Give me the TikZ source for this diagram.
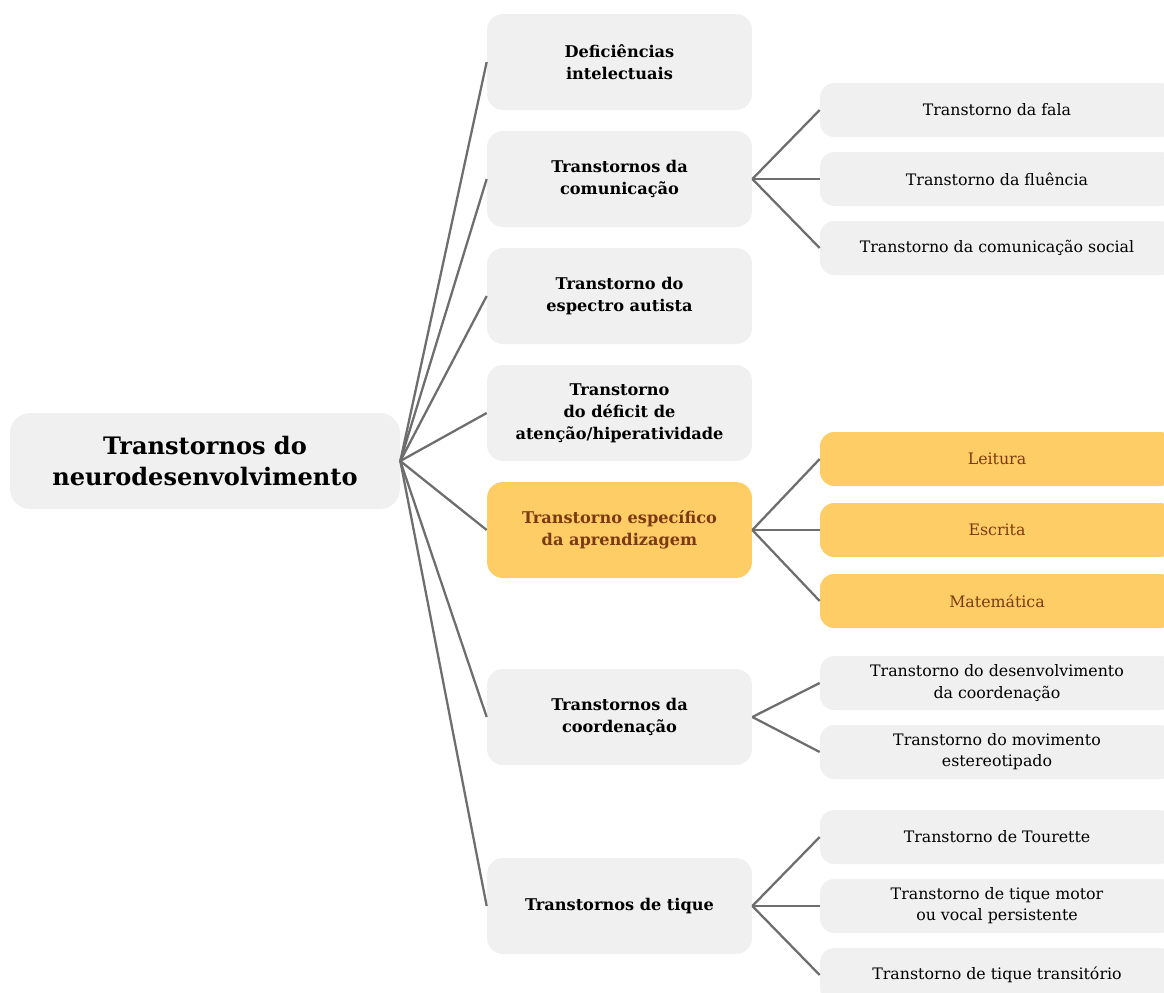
\documentclass[tikz,border=0pt]{standalone}
\usepackage{fontspec}
\setmainfont{DejaVu Serif}
\usetikzlibrary{positioning}
\definecolor{boxgray}{HTML}{F0F0F0}
\definecolor{boxyellow}{HTML}{FFCD66}
\definecolor{textbrown}{HTML}{7B3A12}
\definecolor{linegray}{HTML}{6E6E6E}

\begin{document}
\begin{tikzpicture}[x=0.02cm,y=-0.02cm,
    root/.style={fill=boxgray,rounded corners=0.4cm,minimum width=7.8cm,minimum height=1.92cm,align=center,font=\bfseries\fontsize{13.7}{18}\selectfont},
    topic/.style={fill=boxgray,rounded corners=0.32cm,minimum width=5.3cm,minimum height=1.92cm,align=center,font=\bfseries\fontsize{9.2}{12.5}\selectfont},
    sub/.style={fill=boxgray,rounded corners=0.28cm,minimum width=7.08cm,minimum height=1.08cm,align=center,font=\fontsize{9}{12}\selectfont},
    hot/.style={fill=boxyellow,text=textbrown},
    link/.style={draw=linegray,line width=1.3pt}]
    \useasboundingbox (0,0) rectangle (1164,992);
    % root and first level
    \node[root](N) at (205,461) {Transtornos do\\neurodesenvolvimento};
    \node[topic](DI) at (619.5,62) {Deficiências\\intelectuais};
    \node[topic](TC) at (619.5,179) {Transtornos da\\comunicação};
    \node[topic](TEA) at (619.5,296) {Transtorno do\\espectro autista};
    \node[topic](TDAH) at (619.5,413) {Transtorno\\do déficit de\\atenção/hiperatividade};
    \node[topic,hot](TEAp) at (619.5,530) {Transtorno específico\\da aprendizagem};
    \node[topic](TCo) at (619.5,717) {Transtornos da\\coordenação};
    \node[topic](TT) at (619.5,906) {Transtornos de tique};
    % second level
    \node[sub](fala) at (997,110) {Transtorno da fala};
    \node[sub](fluencia) at (997,179) {Transtorno da fluência};
    \node[sub](social) at (997,248) {Transtorno da comunicação social};
    \node[sub,hot](leitura) at (997,459) {Leitura};
    \node[sub,hot](escrita) at (997,530) {Escrita};
    \node[sub,hot](mat) at (997,601) {Matemática};
    \node[sub](tdc) at (997,683) {Transtorno do desenvolvimento\\da coordenação};
    \node[sub](tme) at (997,752) {Transtorno do movimento\\estereotipado};
    \node[sub](tourette) at (997,837) {Transtorno de Tourette};
    \node[sub](motor) at (997,906) {Transtorno de tique motor\\ou vocal persistente};
    \node[sub](transit) at (997,975) {Transtorno de tique transitório};
    % connectors
    \path[link] (N.east) edge (DI.west);
    \path[link] (N.east) edge (TC.west);
    \path[link] (N.east) edge (TEA.west);
    \path[link] (N.east) edge (TDAH.west);
    \path[link] (N.east) edge (TEAp.west);
    \path[link] (N.east) edge (TCo.west);
    \path[link] (N.east) edge (TT.west);
    \path[link] (TC.east) edge (fala.west);
    \path[link] (TC.east) edge (fluencia.west);
    \path[link] (TC.east) edge (social.west);
    \path[link] (TEAp.east) edge (leitura.west);
    \path[link] (TEAp.east) edge (escrita.west);
    \path[link] (TEAp.east) edge (mat.west);
    \path[link] (TCo.east) edge (tdc.west);
    \path[link] (TCo.east) edge (tme.west);
    \path[link] (TT.east) edge (tourette.west);
    \path[link] (TT.east) edge (motor.west);
    \path[link] (TT.east) edge (transit.west);
  \end{tikzpicture}
\end{document}
